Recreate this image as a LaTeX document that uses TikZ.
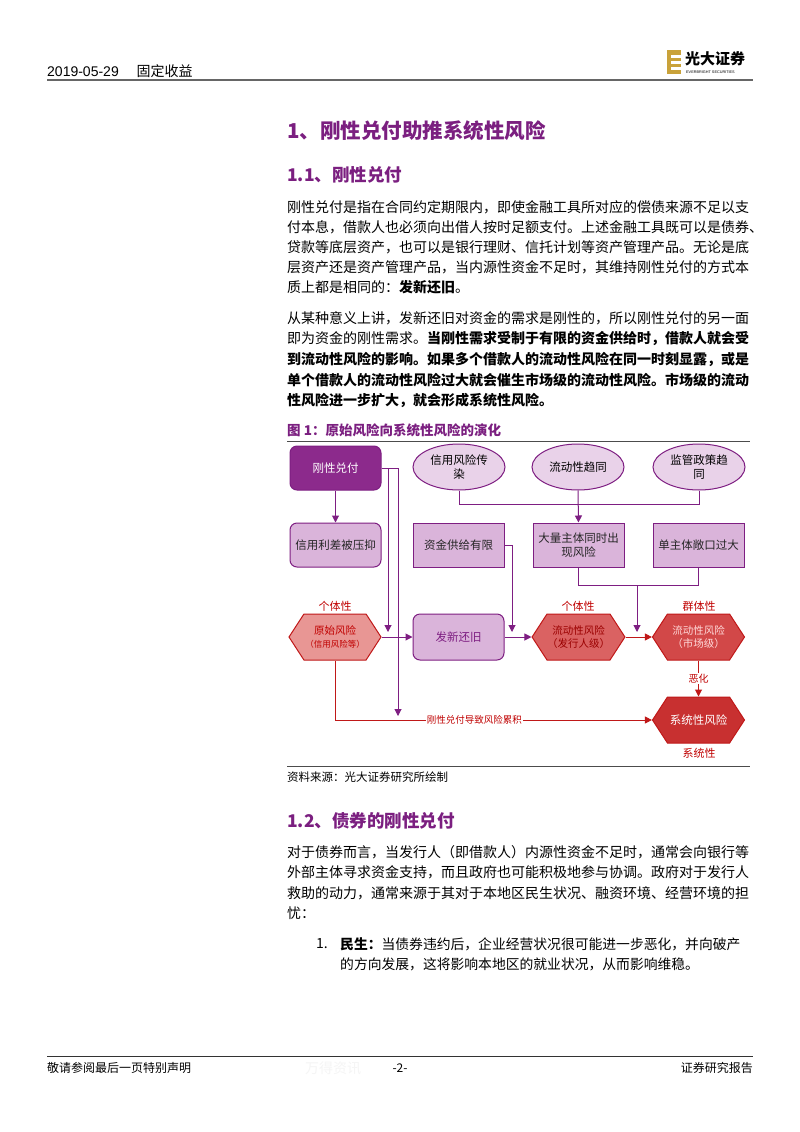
\documentclass[tikz,border=0pt]{standalone}
\usepackage{fontspec}
\setmainfont{Noto Sans CJK SC}
\newfontfamily\hdfont{Liberation Sans}
\usetikzlibrary{arrows.meta,shapes.geometric,shapes.symbols}
\definecolor{ptitle}{HTML}{7B1F80}
\definecolor{pdark}{HTML}{8C2A8C}
\definecolor{plight}{HTML}{DAB4DA}
\definecolor{pline}{HTML}{7E1E82}
\definecolor{rline}{HTML}{C01818}
\definecolor{rlab}{HTML}{C00000}
\definecolor{gold}{HTML}{C9A23A}
\tikzset{
 body/.style={anchor=west,font=\fontsize{14}{16}\selectfont,inner sep=0},
 pbox/.style={draw=pline,line width=1pt,fill=plight,minimum width=91pt,minimum height=44pt,font=\fontsize{11.5}{14}\selectfont,text=black!85,align=center},
 pell/.style={ellipse,draw=pline,line width=1pt,fill=plight!60,minimum width=92pt,minimum height=46pt,font=\fontsize{11.5}{14}\selectfont,align=center,inner sep=0pt},
 hexa/.style={signal,signal to=west and east,signal pointer angle=114,draw=rline,line width=1pt,minimum width=92pt,minimum height=46pt,font=\fontsize{10.5}{13}\selectfont,align=center,inner sep=0pt},
 parrow/.style={draw=pline,line width=1pt,-{Triangle[length=7pt,width=7pt]}},
 pl/.style={draw=pline,line width=1pt},
 rarrow/.style={draw=rline,line width=1pt,-{Triangle[length=7pt,width=7pt]}},
 rlabel/.style={text=rlab,font=\fontsize{11}{12}\selectfont,inner sep=1pt},
}
\begin{document}
\begin{tikzpicture}[x=1pt,y=-1pt]
\useasboundingbox (0,0) rectangle (800,1132);
\fill[white] (0,0) rectangle (800,1132);
% header
\node[anchor=west,inner sep=0] (hd) at (47,71) {\hdfont\fontsize{14}{15}\selectfont 2019-05-29\quad\ {\fontspec{Noto Sans CJK SC}固定收益}};
\draw[black!60,line width=2pt] (47,80) -- (753,80) coordinate (hdr);
\fill[gold] (667,50) rectangle (681,74);
\fill[white] (671,55) rectangle (681,58);
\fill[white] (671,61) rectangle (681,64);
\fill[white] (671,67) rectangle (681,70);
\node[anchor=west,inner sep=0,font=\bfseries\fontsize{15}{16}\selectfont] (logo) at (685,59) {光大证券};
\node[anchor=west,inner sep=0,font=\hdfont\fontsize{3.8}{4}\selectfont] (logo2) at (686,72) {EVERBRIGHT SECURITIES};
% headings
\node[anchor=west,inner sep=0,text=ptitle,font=\bfseries\fontsize{20.5}{24}\selectfont] (h1) at (287,131) {1、刚性兑付助推系统性风险};
\node[anchor=west,inner sep=0,text=ptitle,font=\bfseries\fontsize{17.5}{20}\selectfont] (h11) at (287,175) {1.1、刚性兑付};
% para 1
\node[body] (p1) at (287,207) {刚性兑付是指在合同约定期限内，即使金融工具所对应的偿债来源不足以支};
\node[body] (p2) at (287,227) {付本息，借款人也必须向出借人按时足额支付。上述金融工具既可以是债券、};
\node[body] (p3) at (287,247) {贷款等底层资产，也可以是银行理财、信托计划等资产管理产品。无论是底};
\node[body] (p4) at (287,267) {层资产还是资产管理产品，当内源性资金不足时，其维持刚性兑付的方式本};
\node[body] (p5) at (287,287) {质上都是相同的：\textbf{发新还旧}。};
% para 2
\node[body] (q1) at (287,318) {从某种意义上讲，发新还旧对资金的需求是刚性的，所以刚性兑付的另一面};
\node[body] (q2) at (287,339) {即为资金的刚性需求。\textbf{当刚性需求受制于有限的资金供给时，借款人就会受}};
\node[body] (q3) at (287,359) {\textbf{到流动性风险的影响。如果多个借款人的流动性风险在同一时刻显露，或是}};
\node[body] (q4) at (287,380) {\textbf{单个借款人的流动性风险过大就会催生市场级的流动性风险。市场级的流动}};
\node[body] (q5) at (287,400) {\textbf{性风险进一步扩大，就会形成系统性风险。}};
% figure title
\node[anchor=west,inner sep=0,text=ptitle,font=\bfseries\fontsize{13.5}{15}\selectfont] (ft) at (287,430) {图 1：原始风险向系统性风险的演化};
\draw[black!70,line width=0.8pt] (287,441) -- (750,441) coordinate (ftl);
% nodes
\node[pbox,fill=pdark,rounded corners=7pt,text=white] (gang) at (335.5,468) {刚性兑付};
\node[pell] (e1) at (459,467) {信用风险传\\染};
\node[pell] (e2) at (578,467) {流动性趋同};
\node[pell] (e3) at (699,467) {监管政策趋\\同};
\node[pbox,rounded corners=7pt] (xinyong) at (335.5,545) {信用利差被压抑};
\node[pbox] (zijin) at (458.5,545) {资金供给有限};
\node[pbox] (daliang) at (578.5,545) {大量主体同时出\\现风险};
\node[pbox] (dan) at (698.5,545) {单主体敞口过大};
\node[hexa,fill={rgb,255:red,232;green,150;blue,148},text=rlab] (yuanshi) at (335,637) {原始风险\\{\fontsize{8.5}{11}\selectfont（信用风险等）}};
\node[pbox,rounded corners=7pt,minimum height=46pt,text=pline] (faxin) at (458.5,637) {发新还旧};
\node[hexa,fill={rgb,255:red,218;green,98;blue,98},text=rlab!80!black] (ld1) at (578.5,637) {流动性风险\\（发行人级）};
\node[hexa,fill={rgb,255:red,210;green,72;blue,72},text=white!85!red] (ld2) at (698.5,637) {流动性风险\\（市场级）};
\node[hexa,fill={rgb,255:red,200;green,48;blue,48},text=white,font=\fontsize{11.5}{13}\selectfont] (xt) at (698.5,720) {系统性风险};
% labels
\node[rlabel] (l1) at (335,606) {个体性};
\node[rlabel] (l2) at (578,606) {个体性};
\node[rlabel] (l3) at (699,606) {群体性};
\node[rlabel] (l4) at (699,753) {系统性};
% coordinates
\coordinate (a) at (388,632);
\coordinate (b) at (398,716);
\coordinate (c) at (512,632);
\coordinate (j) at (578,504);
\coordinate (m) at (637,585);
\coordinate (mm) at (637,632);
% connectors
\draw[rarrow] (yuanshi.south) |- node[pos=0.72,fill=white,text=rlab,font=\fontsize{9.5}{10}\selectfont,inner sep=1pt] {刚性兑付导致风险累积} (xt.west);
\draw[parrow] (gang.south) -- (xinyong.north);
\draw[parrow] (gang.east) -| (a);
\draw[parrow] (gang.east) -| (b);
\draw[pl] (e1.south) |- (j);
\draw[pl] (e3.south) |- (j);
\draw[parrow] (e2.south) -- (daliang.north);
\draw[parrow] (yuanshi.east) -- (faxin.west);
\draw[parrow] (zijin.east) -| (c);
\draw[parrow] (faxin.east) -- (ld1.west);
\draw[pl] (daliang.south) |- (m);
\draw[pl] (dan.south) |- (m);
\draw[rarrow] (ld1.east) -- (ld2.west);
\draw[parrow] (m) -- (mm);
\draw[rarrow] (ld2.south) -- node[fill=white,text=rlab,font=\fontsize{10}{11}\selectfont,inner sep=1pt] {恶化} (xt.north);
% source
\draw[black!70,line width=0.8pt] (287,766) -- (750,766) coordinate (srl);
\node[anchor=west,inner sep=0,font=\fontsize{11.5}{13}\selectfont] (src) at (287,777) {资料来源：光大证券研究所绘制};
% section 1.2
\node[anchor=west,inner sep=0,text=ptitle,font=\bfseries\fontsize{17.5}{20}\selectfont] (h12) at (287,821) {1.2、债券的刚性兑付};
\node[body] (r1) at (287,852) {对于债券而言，当发行人（即借款人）内源性资金不足时，通常会向银行等};
\node[body] (r2) at (287,872) {外部主体寻求资金支持，而且政府也可能积极地参与协调。政府对于发行人};
\node[body] (r3) at (287,893) {救助的动力，通常来源于其对于本地区民生状况、融资环境、经营环境的担};
\node[body] (r4) at (287,913) {忧：};
\node[body] (i0) at (316,944) {1.};
\node[body,font=\fontsize{13.8}{16}\selectfont] (i1) at (340,944) {\textbf{民生：}当债券违约后，企业经营状况很可能进一步恶化，并向破产};
\node[body,font=\fontsize{13.8}{16}\selectfont] (i2) at (340,964) {的方向发展，这将影响本地区的就业状况，从而影响维稳。};
% footer
\draw[black!80,line width=0.8pt] (47,1056) -- (753,1056) coordinate (ftr);
\node[anchor=west,inner sep=0,font=\fontsize{12}{13}\selectfont] (f1) at (47,1068) {敬请参阅最后一页特别声明};
\node[inner sep=0,font=\fontsize{14}{15}\selectfont,text=black!4] (wm) at (333,1068) {万得资讯};
\node[inner sep=0,font=\fontsize{12}{13}\selectfont] (f2) at (400,1068) {-2-};
\node[anchor=east,inner sep=0,font=\fontsize{12}{13}\selectfont] (f3) at (753,1068) {证券研究报告};
\end{tikzpicture}
\end{document}
